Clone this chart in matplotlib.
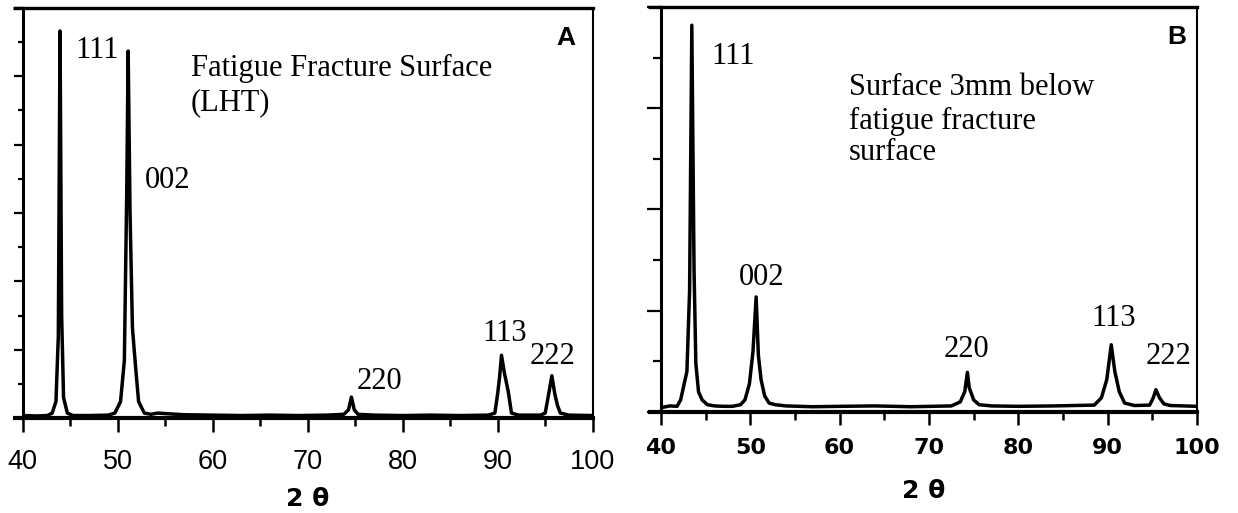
import matplotlib
matplotlib.use('Agg')
import matplotlib.pyplot as plt
import numpy as np

# --- data (2theta in deg, intensity as fraction of axis height) ---

# panel A: fatigue fracture surface (LHT)
tt_a = [40.0, 41.5, 42.6, 43.1, 43.5, 43.75, 43.93, 44.1, 44.3, 44.7,
        45.3, 47.0, 49.0, 49.7, 50.3, 50.7, 50.95, 51.1, 51.3, 51.55,
        51.9, 52.2, 52.8, 53.5, 54.2, 55.5, 57.0, 60.0, 63.0, 66.0,
        69.0, 72.0, 73.8, 74.3, 74.6, 74.9, 75.3, 77.0, 80.0, 83.0,
        86.0, 89.0, 89.7, 90.0, 90.2, 90.4, 90.7, 91.1, 91.45, 92.2,
        94.5, 95.0, 95.3, 95.7, 96.0, 96.3, 96.6, 97.5, 100.0]
int_a = [0.006, 0.005, 0.006, 0.012, 0.04, 0.2, 0.944, 0.25, 0.05, 0.012,
         0.006, 0.006, 0.007, 0.012, 0.04, 0.14, 0.55, 0.895, 0.5, 0.22,
         0.12, 0.04, 0.012, 0.009, 0.012, 0.01, 0.008, 0.007, 0.006, 0.007,
         0.006, 0.007, 0.009, 0.02, 0.051, 0.02, 0.009, 0.007, 0.006, 0.007,
         0.006, 0.007, 0.012, 0.06, 0.1, 0.153, 0.11, 0.066, 0.012, 0.007,
         0.007, 0.012, 0.05, 0.103, 0.06, 0.03, 0.012, 0.007, 0.006]

# panel B: surface 3mm below the fracture surface
tt_b = [40.3, 41.0, 41.8, 42.2, 42.5, 42.9, 43.2, 43.45, 43.7, 43.9,
        44.2, 44.6, 45.2, 46.0, 47.0, 48.0, 48.9, 49.4, 49.9, 50.3,
        50.65, 50.9, 51.2, 51.6, 52.1, 52.8, 54.0, 57.0, 60.0, 64.0,
        68.0, 72.5, 73.5, 74.0, 74.3, 74.5, 75.0, 75.6, 77.0, 80.0,
        84.0, 88.5, 89.3, 89.9, 90.4, 90.8, 91.3, 91.9, 93.0, 94.7,
        95.1, 95.4, 95.8, 96.3, 97.0, 100.0]
int_b = [0.012, 0.015, 0.014, 0.03, 0.06, 0.1, 0.3, 0.955, 0.35, 0.12,
         0.05, 0.03, 0.018, 0.015, 0.014, 0.014, 0.018, 0.03, 0.07, 0.15,
         0.284, 0.14, 0.08, 0.04, 0.022, 0.018, 0.015, 0.013, 0.014, 0.015,
         0.013, 0.015, 0.025, 0.05, 0.098, 0.06, 0.03, 0.018, 0.015, 0.014,
         0.015, 0.017, 0.035, 0.08, 0.166, 0.1, 0.05, 0.022, 0.016, 0.017,
         0.035, 0.055, 0.035, 0.02, 0.016, 0.014]

hkl = ['111', '002', '220', '113', '222']
lab_x_a = [45.5, 52.9, 75.2, 88.4, 93.4]
lab_y_a = [0.896, 0.58, 0.09, 0.205, 0.151]
lab_x_b = [45.6, 48.7, 71.6, 88.2, 94.2]
lab_y_b = [0.879, 0.332, 0.155, 0.23, 0.138]

xticks = [40, 50, 60, 70, 80, 90, 100]

W, H = 1238, 513
fig = plt.figure(figsize=(W / 100, H / 100), dpi=100)

ax_a = fig.add_axes([22.7 / W, (H - 418) / H, 570 / W, 410 / H])
ax_b = fig.add_axes([661 / W, (H - 412) / H, 536 / W, 405 / H])

serif = 'Liberation Serif'


def frame(ax, ymaj, ymin, ylen, xlen, lw_top, ext):
    ax.set_xlim(40, 100)
    ax.set_ylim(0, 1)
    ax.spines['top'].set_linewidth(lw_top)
    ax.spines['left'].set_linewidth(2.2)
    ax.spines['right'].set_linewidth(1.5)
    ax.spines['bottom'].set_linewidth(3.0)
    # horizontal lines run a bit past the y axis on the left
    ax.plot([-ext, 0], [1, 1], transform=ax.transAxes, color='black',
            lw=lw_top, clip_on=False, solid_capstyle='butt')
    ax.plot([-ext, 0], [0, 0], transform=ax.transAxes, color='black',
            lw=3.0, clip_on=False, solid_capstyle='butt')
    ax.set_xticks(xticks)
    ax.set_xticks(np.arange(45, 100, 10), minor=True)
    ax.set_yticks(ymaj)
    ax.set_yticks(ymin, minor=True)
    ax.tick_params(axis='y', which='major', direction='out', length=ylen[0],
                   width=1.6, labelleft=False)
    ax.tick_params(axis='y', which='minor', direction='out', length=ylen[1],
                   width=1.6)
    ax.tick_params(axis='x', which='major', direction='out', length=xlen[0],
                   width=1.8)
    ax.tick_params(axis='x', which='minor', direction='out', length=xlen[1],
                   width=1.8)


frame(ax_a, np.arange(0, 1.01, 1 / 6), np.arange(1 / 12, 1, 1 / 6),
      (6.5, 3.5), (10, 6), 2.4, 0.017)
frame(ax_b, np.arange(0, 1.01, 0.25), np.arange(0.125, 1, 0.25),
      (10, 5.5), (9, 5.5), 2.4, 0.024)

ax_a.plot(tt_a, int_a, color='black', lw=2.5, solid_joinstyle='round')
ax_b.plot(tt_b, int_b, color='black', lw=2.5, solid_joinstyle='round')

ax_a.set_xticklabels([str(v) for v in xticks], fontfamily='Liberation Sans',
                     fontsize=19.5)
ax_a.tick_params(axis='x', pad=12)
ax_b.set_xticklabels([str(v) for v in xticks], fontfamily='DejaVu Sans',
                     fontweight='bold', fontsize=16)
ax_b.tick_params(axis='x', pad=10)

for lab, x, y in zip(hkl, lab_x_a, lab_y_a):
    ax_a.text(x, y, lab, fontfamily=serif, fontsize=22, ha='left', va='center')
for lab, x, y in zip(hkl, lab_x_b, lab_y_b):
    ax_b.text(x, y, lab, fontfamily=serif, fontsize=22, ha='left', va='center')

ax_a.text(57.7, 0.833, 'Fatigue Fracture Surface', fontfamily=serif,
          fontsize=22, ha='left', va='baseline')
ax_a.text(57.7, 0.750, '(LHT)', fontfamily=serif, fontsize=22,
          ha='left', va='baseline')
ax_b.text(61.0, 0.783, 'Surface 3mm below', fontfamily=serif, fontsize=22,
          ha='left', va='baseline')
ax_b.text(61.0, 0.700, 'fatigue fracture', fontfamily=serif, fontsize=22,
          ha='left', va='baseline')
ax_b.text(61.0, 0.623, 'surface', fontfamily=serif, fontsize=22,
          ha='left', va='baseline')

ax_a.text(96.2, 0.927, 'A', fontfamily='Liberation Sans', fontweight='bold',
          fontsize=19, ha='left', va='center')
ax_b.text(96.7, 0.925, 'B', fontfamily='Liberation Sans', fontweight='bold',
          fontsize=19, ha='left', va='center')

ax_a.annotate('2 θ', xy=(0.5, 0), xycoords='axes fraction', xytext=(0, -58),
              textcoords='offset points', ha='center', va='center',
              fontfamily='DejaVu Sans', fontweight='bold', fontsize=18)
ax_b.annotate('2 θ', xy=(0.49, 0), xycoords='axes fraction', xytext=(0, -57),
              textcoords='offset points', ha='center', va='center',
              fontfamily='DejaVu Sans', fontweight='bold', fontsize=18)

fig.savefig('out.png', dpi=100)
